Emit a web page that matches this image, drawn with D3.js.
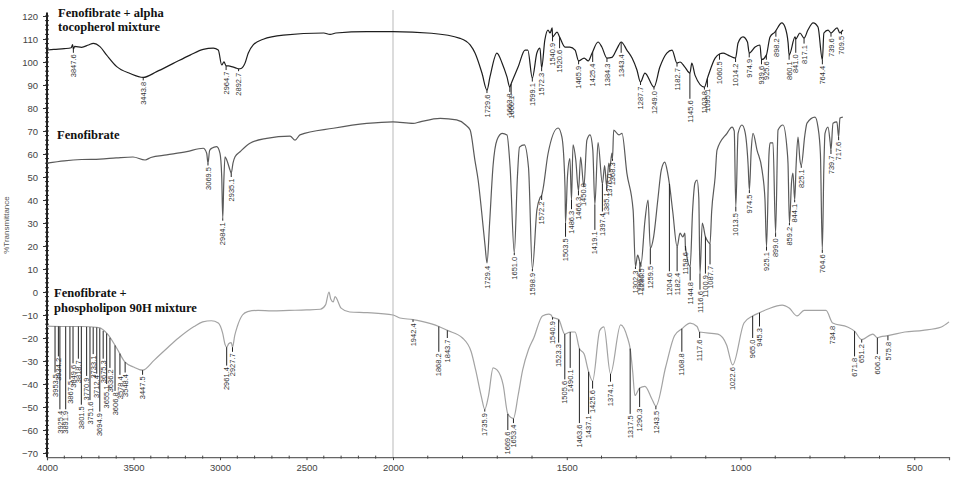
<!DOCTYPE html>
<html>
<head>
<meta charset="utf-8">
<script src="https://cdn.jsdelivr.net/npm/d3@7"></script>
<style>
  body { margin: 0; background: #fff; }
  svg { display: block; }
  .tick text { font-family: "Liberation Sans", Arial, sans-serif; font-size: 9.5px; fill: #444; }
  .peak { font-family: "Liberation Sans", Arial, sans-serif; font-size: 7.5px; fill: #333; }
  .title { font-family: "Liberation Serif", "Times New Roman", serif; font-weight: bold; font-size: 12.5px; fill: #111; }
</style>
</head>
<body>
<svg id="chart" width="959" height="480"></svg>
<script>
// wavenumber (cm-1), %T
const alphaSpectrum = [
  [4000,105.2],[3960,105.5],[3900,105.8],[3860,106.2],[3852,107.6],[3847.6,105.6],[3840,106.8],[3800,106.4],
  [3760,107.4],[3732,108.1],[3694,106.7],[3655,103],[3597,98],[3520,95],[3443.8,93.3],[3366,95.8],
  [3270,99.4],[3173,103],[3097,105.5],[3039,106],[3010,105.2],[2990,98.7],[2977,100.1],[2964.7,98.3],
  [2950,98.3],[2933,98],[2904,97.3],[2892.7,97],[2875,97.3],[2856,99.4],[2837,103.8],[2808,107.4],
  [2750,109.9],[2634,111.7],[2400,112.6],[2364,112],[2330,112.6],[2152,113.2],[2000,113.2],[1889,112.5],
  [1807,110.3],[1778,107.4],[1764,103.9],[1744,95.2],[1729.6,87.8],[1721,93.5],[1701,103.9],[1686,99.5],
  [1672,93.5],[1663.8,89.1],[1660.1,90.5],[1640,97.8],[1620,105.2],[1612,105.2],[1599.1,93],[1586,103.9],
  [1577,106],[1572.3,97.4],[1563,109.6],[1554,113.9],[1548,112.6],[1542,114.8],[1540.9,110.9],[1528,113],
  [1520.6,110.9],[1505,106.5],[1491,106.5],[1476,105.2],[1465.9,100.5],[1450,101.7],[1438,100.5],[1427,103.9],
  [1410,108.7],[1399,106.5],[1384.3,101.7],[1370,102],[1355,105.9],[1343.4,108.7],[1327,105.2],[1312,101.7],
  [1298,96.5],[1287.7,91.3],[1275,95.2],[1249,89.1],[1232,97.8],[1212,103.9],[1197,105.2],[1182.7,99.5],
  [1174,100],[1160,97.8],[1145.6,95.2],[1140,99.5],[1131,94.3],[1103.8,89.1],[1095.1,93],[1073,101.7],
  [1060.5,103.5],[1050,103.9],[1036,103],[1014.2,101.7],[1007,108.3],[993,110.9],[980,108.7],[974.9,103.9],
  [958,106.5],[944,107.4],[939.6,101],[925.6,103],[915,110.9],[901,113],[881,117],[872,115.2],
  [863,108.3],[860.1,103],[843,110.9],[841,110],[829,112.6],[817.1,110.4],[806,113.9],[791,117],
  [777,115.2],[764.4,100.9],[760,112.6],[748,113.9],[739.6,112.6],[722,114.8],[714,112.6],[709.5,113.2],[705,113.9]
];
const alphaPeaks = [
  [3847.6,104],[3443.8,92],[2964.7,96.5],[2892.7,96],[1729.6,86.5],[1663.8,87],[1660.1,86],[1599.1,91.5],
  [1572.3,96],[1540.9,109],[1520.6,106],[1465.9,99],[1425.4,100],[1384.3,100],[1343.4,104],[1287.7,90],
  [1249.0,88],[1182.7,98],[1145.6,84],[1103.8,88],[1095.1,89],[1060.5,101],[1014.2,100],[974.9,102],
  [939.6,99],[925.6,101],[898.2,111],[860.1,101],[841.0,104],[817.1,108],[764.4,99],[739.6,111],[709.5,112]
];

const fenoSpectrum = [
  [4000,56],[3900,57],[3800,57.6],[3694,57.8],[3600,58.3],[3503,58.7],[3433,57.4],[3400,58.5],[3308,59.6],
  [3192,61],[3097,62.5],[3077,60.3],[3069.5,56],[3060,61.5],[3048,62.5],[3019,63.2],[3000,60.3],[2990,50],
  [2984.1,32],[2978,48],[2971,58.8],[2961,57.4],[2942,53],[2935.1,51.6],[2925,56],[2913,58.8],[2884,61],
  [2827,64.7],[2730,66.8],[2595,67.8],[2566,66],[2538,68.3],[2345,71.2],[2152,73.3],[2000,74],[1942,73.3],
  [1922,74],[1864,75.5],[1817,74.8],[1790,72.5],[1778,70.4],[1764,57],[1755,48.7],[1745,35],[1735,20],
  [1729.4,12.6],[1722,30],[1712,55],[1701,66],[1686,69],[1672,68.3],[1663,54.3],[1651,17],[1642,50],
  [1636,63],[1622,64],[1610,54],[1598.9,10],[1586,35.6],[1577,41],[1572.2,42],[1568,45],[1554,60],
  [1525,71.3],[1514,67.4],[1505,45.7],[1503.5,30],[1498,50],[1491,58],[1486.3,40],[1482,64],[1474,57.4],
  [1466.3,44],[1460,58.7],[1450.8,45.7],[1442,66],[1433,68.3],[1425,61.7],[1419.1,38],[1410,65],
  [1397.4,47],[1391,55],[1385.1,46],[1379,56],[1376,54],[1370,60.4],[1368.3,58],[1365,70.4],[1350,68.3],
  [1341,69],[1327,51.7],[1309,35.6],[1302.3,11],[1296,16],[1289.5,13],[1286.5,12],[1275,31],[1266,40],
  [1259.5,19],[1250,24],[1238,40],[1228,53],[1218,56.5],[1210,52],[1204.6,47],[1195,35],[1182.4,19.6],
  [1174,25.6],[1166,24],[1160,25.6],[1158.6,20],[1144.8,11],[1138,35],[1131,47.4],[1125,48.7],[1120,41],
  [1116.6,8],[1110,30],[1100.9,24],[1094,22],[1087.7,21],[1083,35],[1073,50],[1067.6,61.7],[1038.8,69],
  [1024.4,71.7],[1018,70],[1013.5,37],[1007,69],[995.7,72.6],[987,69.6],[978,55],[974.5,44.3],[969,62],
  [964,69],[952.5,61.7],[938,53],[929.5,40],[925.1,19.6],[918,60],[915,64.8],[906.5,64.8],[899,25.6],
  [892,70.4],[877.7,72.6],[866,62],[863.3,56],[859.2,30],[853,48],[849,51.7],[844.1,40],[840,55],
  [834.5,67.4],[829,57.4],[825.1,55],[815,68],[808.6,73.4],[785.6,76],[777,71.7],[770,60],[764.6,18.3],
  [760,55],[756.8,69],[748.2,71.7],[742,65],[739.7,61.7],[733.8,73.4],[722.6,74],[717.6,67.4],[713.9,75.6],[705.5,76]
];
const fenoPeaks = [
  [3069.5,55],[2984.1,31],[2935.1,50],[1729.4,12],[1651.0,16],[1598.9,9],[1572.2,40],[1503.5,24],
  [1486.3,36],[1466.3,42],[1450.8,48],[1419.1,27],[1397.4,35],[1385.1,44],[1376.0,52],[1368.3,57],
  [1302.3,10],[1289.5,9],[1286.5,11],[1259.5,12],[1204.6,9],[1182.4,9],[1158.6,18],[1144.8,5],
  [1116.6,1],[1100.9,8],[1087.7,12],[1013.5,35],[974.5,43],[925.1,18],[899.0,24],[859.2,29],
  [844.1,39],[825.1,54],[764.6,17],[739.7,60],[717.6,66]
];

const phosphoSpectrum = [
  [4000,-14.8],[3900,-15],[3800,-15],[3700,-15.5],[3650,-18.3],[3600,-24],[3550,-30.4],[3500,-32.6],
  [3447.5,-34],[3380,-29.6],[3300,-24],[3240,-20],[3150,-15],[3100,-13],[3050,-12.5],[3010,-13.5],
  [2985,-17.8],[2970,-23],[2961.4,-24],[2950,-22.5],[2935,-22],[2927.7,-24],[2915,-19],[2900,-15],
  [2870,-10],[2840,-8.5],[2780,-8],[2700,-8.2],[2600,-8],[2500,-7.8],[2420,-7.5],[2390,-5.6],[2370,0],
  [2360,-3],[2345,-4.3],[2335,-2],[2300,-7],[2250,-8.7],[2150,-9],[2000,-10],[1980,-11.3],[1942.4,-12],
  [1917,-12.8],[1868.2,-15],[1843.7,-16.7],[1800,-20],[1775,-26],[1762,-34],[1745,-46],[1735.9,-51],
  [1725,-45],[1712,-33],[1700,-34],[1683,-40.4],[1669.6,-53],[1653.4,-55],[1640,-45],[1627,-34],
  [1610,-25],[1595,-20],[1570,-10.4],[1552,-9.6],[1545,-10],[1540.9,-11],[1523.3,-12],[1505.6,-18.3],
  [1490.1,-17.4],[1476,-17.4],[1463.6,-24.6],[1450,-27],[1437.1,-34.7],[1425.6,-38.7],[1405,-16.7],
  [1393,-15.2],[1374.1,-35.6],[1345,-14.3],[1325,-20],[1317.5,-24.6],[1310,-35],[1304,-45],[1290.3,-41.7],
  [1275,-41],[1255,-46.5],[1243.5,-49.6],[1215,-32.4],[1190,-19],[1168.8,-16],[1145,-13.5],[1125,-15],
  [1117.6,-17.4],[1065,-18.3],[1040,-23],[1022.6,-31.7],[990,-13.5],[965,-10.4],[945.3,-9],[921,-7.4],
  [880,-5.7],[860,-7],[837,-10.4],[817,-8],[754,-8],[734.8,-13.5],[692,-15.2],[671.8,-17],[651.2,-20.7],
  [619,-18.3],[606.2,-19.9],[598,-19.5],[575.8,-19],[527,-17.4],[475,-16.7],[422,-15.2],[400,-13]
];
const phosphoPeaks = [
  [3953.5,-35],[3934.2,-28],[3925.4,-51],[3891.9,-51],[3867.5,-38],[3849.6,-31],[3818.7,-29],[3801.5,-49],
  [3770.9,-36.5],[3751.6,-47],[3733.1,-27],[3712.4,-35.5],[3694.9,-52],[3675.3,-29],[3655.1,-40],[3636.2,-33],
  [3606.8,-43],[3578.4,-36],[3548.4,-35],[3447.5,-36],[2961.4,-32],[2927.7,-26],[1942.4,-13],[1868.2,-26],
  [1843.7,-20],[1735.9,-52],[1669.6,-60],[1653.4,-57],[1540.9,-12],[1523.3,-22],[1505.6,-38],[1490.1,-33],
  [1463.6,-57],[1437.1,-53],[1425.6,-42],[1374.1,-39],[1317.5,-53],[1290.3,-50],[1243.5,-51],[1168.8,-26],
  [1117.6,-20],[1022.6,-32],[965.0,-20],[945.3,-15],[734.8,-14],[671.8,-28],[651.2,-22],[606.2,-27],[575.8,-21]
];

const xTicks = [4000, 3500, 3000, 2500, 2000, 1500, 1000, 500];
const yTicks = d3.range(-70, 121, 10);

const svg = d3.select("#chart");
const x = d3.scaleLinear().domain([4000, 2000, 400]).range([47, 393, 949]);
const y = d3.scaleLinear().domain([-70, 120]).range([453, 16]);
const axisY = y(-71.8);

// split line at 2000
svg.append("line")
  .attr("x1", x(2000)).attr("x2", x(2000))
  .attr("y1", 10).attr("y2", axisY)
  .attr("stroke", "#d0d0d0").attr("stroke-width", 1.5);

// x axis
const gx = svg.append("g").attr("transform", "translate(0," + axisY + ")")
  .call(d3.axisBottom(x).tickValues(xTicks).tickSize(3).tickPadding(4).tickFormat(d3.format("d")));
gx.select(".domain").attr("stroke", "#666").attr("stroke-width", 1.2);
gx.selectAll(".tick line").attr("stroke", "#444");
gx.selectAll(".minor").data(d3.range(3900, 400, -100).filter(d => d % 500 !== 0))
  .join("line").attr("class", "minor")
  .attr("x1", d => x(d)).attr("x2", d => x(d))
  .attr("y1", -1.5).attr("y2", 1.5).attr("stroke", "#444");

// y axis
const gy = svg.append("g").attr("transform", "translate(" + x(4000) + ",0)")
  .call(d3.axisLeft(y).tickValues(yTicks).tickSize(4).tickPadding(5));
gy.select(".domain").remove();
gy.selectAll(".tick line").attr("stroke", "#333");
gy.selectAll(".minor").data(d3.range(-70, 121, 2))
  .join("line").attr("class", "minor")
  .attr("x1", -2).attr("x2", 2)
  .attr("y1", d => y(d)).attr("y2", d => y(d)).attr("stroke", "#333");
gy.append("line").attr("y1", y(121.5)).attr("y2", axisY)
  .attr("stroke", "#222").attr("stroke-width", 2);

svg.append("text")
  .attr("transform", "translate(9,225) rotate(-90)")
  .attr("text-anchor", "middle")
  .style("font-family", "Liberation Sans, Arial, sans-serif")
  .style("font-size", "8px").style("fill", "#555")
  .text("%Transmittance");

const line = d3.line().x(d => x(d[0])).y(d => y(d[1])).curve(d3.curveMonotoneX);

function valueAt(spec, w) {
  // spectra run from high to low wavenumber
  for (let i = 0; i < spec.length - 1; i++) {
    const a = spec[i], b = spec[i + 1];
    if (w <= a[0] && w >= b[0]) {
      const t = (a[0] - w) / (a[0] - b[0]);
      return a[1] + t * (b[1] - a[1]);
    }
  }
  return spec[spec.length - 1][1];
}

function drawSpectrum(spec, peaks, color) {
  const g = svg.append("g");
  g.append("path").datum(spec)
    .attr("fill", "none").attr("stroke", color)
    .attr("stroke-width", 1.2).attr("d", line);
  peaks.forEach(p => {
    const w = p[0], depth = p[1];
    const top = valueAt(spec, w);
    if (top - depth > 0.8) {
      g.append("line")
        .attr("x1", x(w)).attr("x2", x(w))
        .attr("y1", y(top)).attr("y2", y(depth))
        .attr("stroke", "#222").attr("stroke-width", 1);
    }
    g.append("text").attr("class", "peak")
      .attr("transform", "translate(" + x(w) + "," + (y(depth) + 1.5) + ") rotate(-90)")
      .attr("text-anchor", "end")
      .attr("dy", "0.35em")
      .text(w.toFixed(1));
  });
}

drawSpectrum(alphaSpectrum, alphaPeaks, "#1e1e1e");
drawSpectrum(fenoSpectrum, fenoPeaks, "#5a5a5a");
drawSpectrum(phosphoSpectrum, phosphoPeaks, "#a3a3a3");

const titles = [
  ["Fenofibrate + alpha", 58, 17],
  ["tocopherol mixture", 58, 31],
  ["Fenofibrate", 57, 139],
  ["Fenofibrate +", 54, 297],
  ["phospholipon 90H mixture", 54, 311.5]
];
svg.selectAll(".title").data(titles).join("text")
  .attr("class", "title")
  .attr("x", d => d[1]).attr("y", d => d[2])
  .text(d => d[0]);
</script>
</body>
</html>
